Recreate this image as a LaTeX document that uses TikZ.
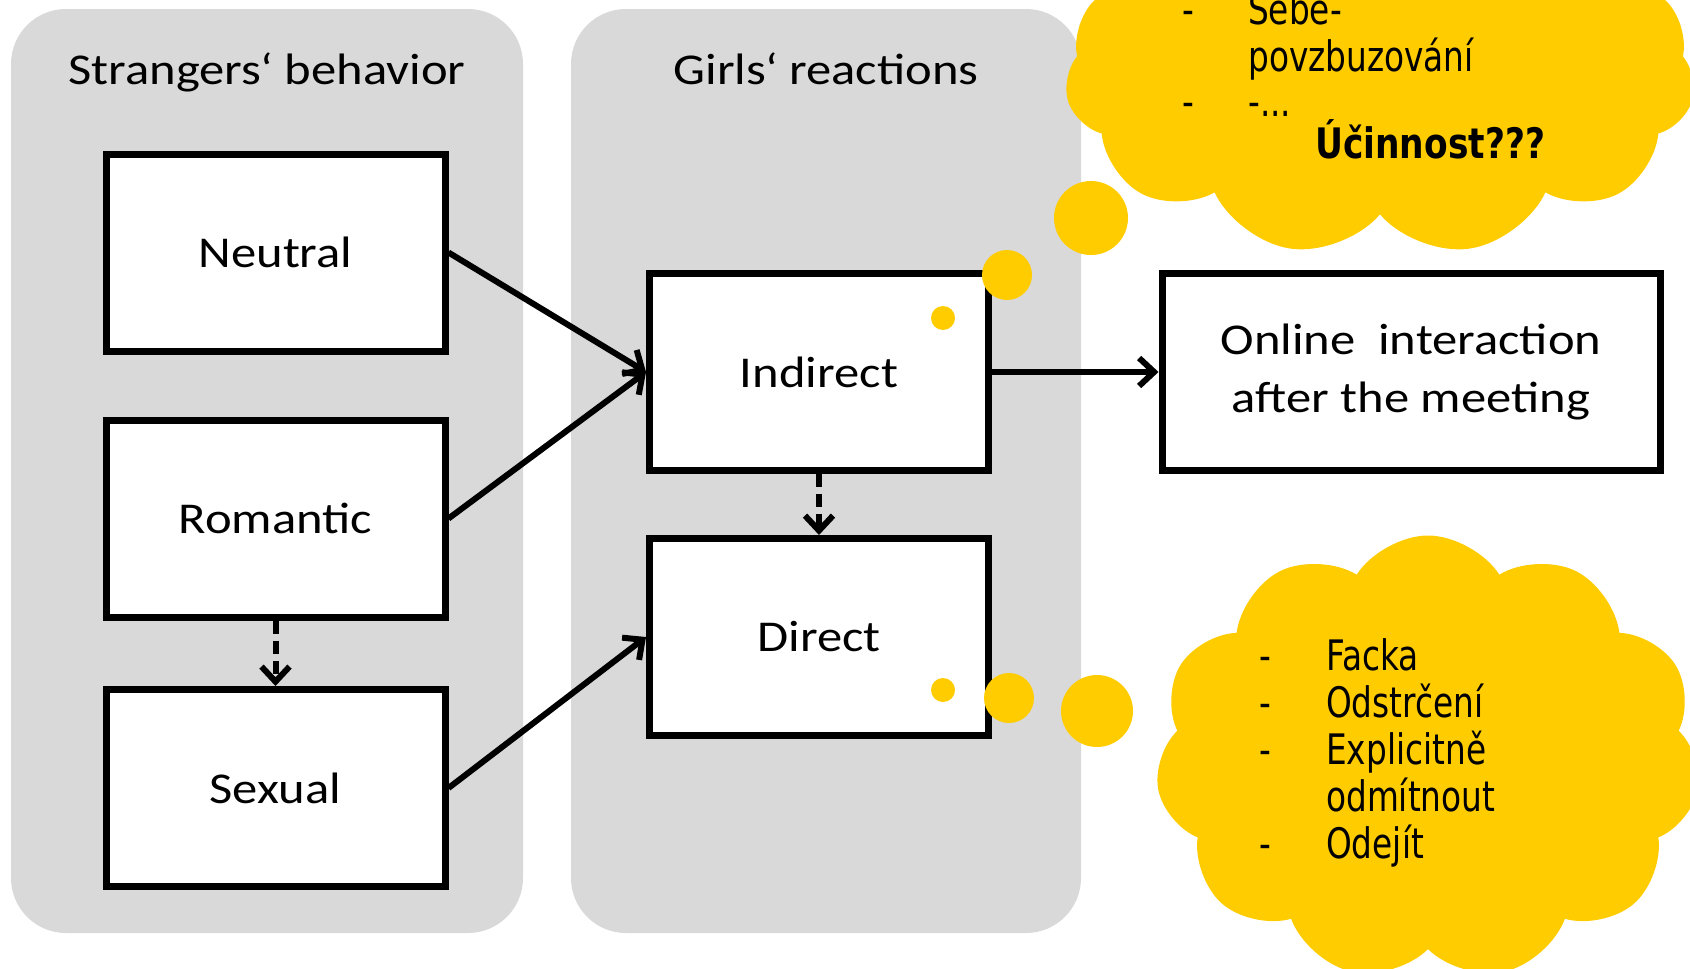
\documentclass[tikz,border=0pt]{standalone}
\usepackage{fontspec}
\newfontfamily\boxfont[FakeStretch=1.15]{Carlito}
\newfontfamily\cloudfont[FakeStretch=0.78]{DejaVu Sans}
\newfontfamily\cloudbold[FakeStretch=0.82]{DejaVu Sans Bold}
\usetikzlibrary{arrows.meta, shapes.symbols, positioning}
\definecolor{panelgray}{RGB}{217,217,217}
\definecolor{cloudyellow}{RGB}{255,204,0}

\begin{document}
\begin{tikzpicture}[
        x=1pt, y=-1pt,
        every node/.style={font=\boxfont\fontsize{44}{58}\selectfont},
        panel/.style={fill=panelgray, rounded corners=55pt},
        catbox/.style={draw, line width=7pt, fill=white, minimum width=339pt,
                       minimum height=197pt, inner sep=0pt, align=center},
        link/.style={line width=6pt, -{Straight Barb[length=15pt, width=28pt, line width=6pt]}},
        maybe/.style={link, dash pattern=on 13pt off 7pt},
        puff/.style={cloud, cloud puffs=11, cloud puff arc=115, fill=cloudyellow,
                     draw=none, inner sep=0pt},
        bubble/.style={circle, fill=cloudyellow, inner sep=0pt},
        note/.style={font=\cloudfont\fontsize{42}{45.5}\selectfont, inner sep=0pt}
]

\useasboundingbox (0,0) rectangle (1690,969);
\clip (0,0) rectangle (1690,969);

%--- grey panels ---------------------------------------------
\fill[panel] (11,9) rectangle (523,933);      % strangers
\fill[panel] (571,9) rectangle (1081,933);    % girls

\node[anchor=base] (strangersT) at (267,84) {Strangers‘ behavior};
\node[anchor=base] (girlsT)     at (826,84) {Girls‘ reactions};

%--- category boxes ------------------------------------------
\node[catbox] (neutral)  at (275.5,252.5) {Neutral};
\node[catbox] (romantic) at (275.5,518.5) {Romantic};
\node[catbox] (sexual)   at (275.5,788)   {Sexual};

\node[catbox] (indirect) at (819,372) {Indirect};
\node[catbox] (direct)   at (819,637) {Direct};

\node[catbox, minimum width=498pt] (online) at (1411,372)
     {Online\ \ interaction\\after the meeting};

%--- connectors ----------------------------------------------
\draw[link]  (neutral.east)  -- (indirect.west);
\draw[link]  (romantic.east) -- (indirect.west);
\draw[link]  (sexual.east)   -- (direct.west);
\draw[link]  (indirect.east) -- (online.west);
\draw[maybe] (romantic.south) -- (sexual.north);
\draw[maybe] (indirect.south) -- (direct.north);

%--- thought clouds ------------------------------------------
\node[puff, minimum width=630pt, minimum height=360pt] (upperC) at (1380,76) {};
\node[puff, minimum width=545pt, minimum height=445pt] (lowerC) at (1428,758) {};

\node[bubble, minimum size=24pt] (ub1) at (943,318) {};
\node[bubble, minimum size=50pt] (ub2) at (1007,275) {};
\node[bubble, minimum size=74pt] (ub3) at (1091,218) {};

\node[bubble, minimum size=24pt] (lb1) at (943,690) {};
\node[bubble, minimum size=50pt] (lb2) at (1009,698) {};
\node[bubble, minimum size=72pt] (lb3) at (1097,711) {};

%--- cloud texts ---------------------------------------------
\node[note, anchor=base west] (upperT) at (1182,24)
     {\begin{tabular}[t]{@{}p{66pt}@{}l@{}}
      - & Sebe-\\
        & povzbuzování\\
      - & -...
      \end{tabular}};
\node[note, anchor=base west, font=\cloudbold\fontsize{42}{45.5}\selectfont]
     (effect) at (1315,158) {Účinnost???};

\node[note, anchor=base west] (lowerT) at (1259,670)
     {\begin{tabular}[t]{@{}p{67pt}@{}l@{}}
      - & Facka\\
      - & Odstrčení\\
      - & Explicitně\\
        & odmítnout\\
      - & Odejít
      \end{tabular}};

\end{tikzpicture}
\end{document}
